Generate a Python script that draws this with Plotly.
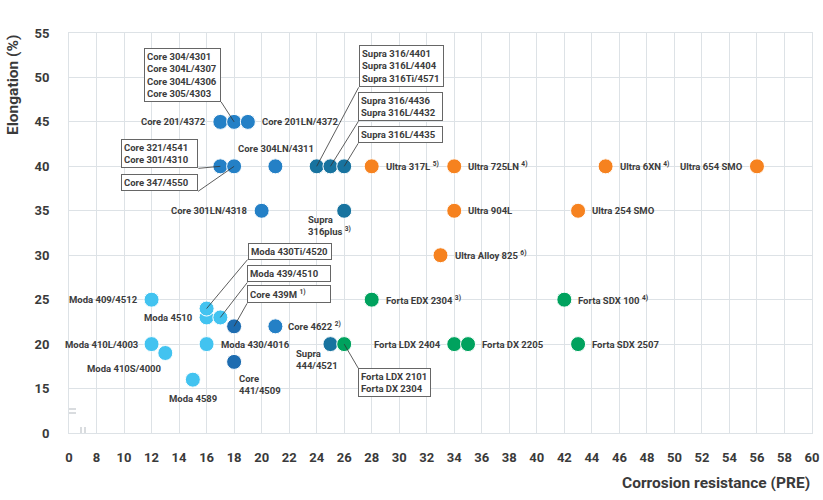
import plotly.graph_objects as go

# grade names (multi-grade points joined with <br>)
grades = [
    "Moda 409/4512", "Moda 410L/4003", "Moda 410S/4000", "Moda 4589",
    "Moda 4510", "Moda 430Ti/4520", "Moda 439/4510", "Moda 430/4016",
    "Core 439M <sup>1)</sup>", "Core<br>441/4509", "Core 4622 <sup>2)</sup>",
    "Core 201/4372", "Core 304/4301<br>Core 304L/4307<br>Core 304L/4306<br>Core 305/4303",
    "Core 201LN/4372", "Core 321/4541<br>Core 301/4310", "Core 347/4550",
    "Core 304LN/4311", "Core 301LN/4318",
    "Supra 316/4401<br>Supra 316L/4404<br>Supra 316Ti/4571",
    "Supra 316/4436<br>Supra 316L/4432", "Supra 316L/4435",
    "Supra<br>316plus <sup>3)</sup>", "Supra<br>444/4521",
    "Ultra 317L <sup>5)</sup>", "Ultra 725LN <sup>4)</sup>", "Ultra 6XN <sup>4)</sup>",
    "Ultra 654 SMO", "Ultra 904L", "Ultra 254 SMO", "Ultra Alloy 825 <sup>6)</sup>",
    "Forta EDX 2304 <sup>3)</sup>", "Forta SDX 100 <sup>4)</sup>",
    "Forta LDX 2101<br>Forta DX 2304", "Forta LDX 2404", "Forta DX 2205",
    "Forta SDX 2507",
]
pre = [12, 12, 13, 15, 16, 16, 17, 16,
       18, 18, 21,
       17, 18, 19, 17, 18, 21, 20,
       24, 25, 26, 26, 25,
       28, 34, 45, 56, 34, 43, 33,
       28, 42, 26, 34, 35, 43]
elongation = [25, 20, 19, 16, 23, 24, 23, 20,
              22, 18, 22,
              45, 45, 45, 40, 40, 40, 35,
              40, 40, 40, 35, 20,
              40, 40, 40, 40, 35, 35, 30,
              25, 25, 20, 20, 20, 20]
family = ["Moda"] * 8 + ["Core F", "Core F", "Core"] + ["Core"] * 7 + ["Supra"] * 5 \
    + ["Ultra"] * 7 + ["Forta"] * 6

x_ticks = [6] + list(range(8, 61, 2))
x_text = ["0"] + [str(v) for v in range(8, 61, 2)]
y_ticks = list(range(10, 56, 5))
y_text = ["0"] + [str(v) for v in range(15, 56, 5)]

colors = {
    "Moda": "#42c3f0",
    "Core": "#2480c6",
    "Core F": "#1d6cb0",
    "Supra": "#18739f",
    "Ultra": "#f6821f",
    "Forta": "#00a25e",
}

# label placement: (xanchor, yanchor, xshift, yshift)
plain = {
    "Moda 409/4512": ("right", "middle", -12, 0),
    "Moda 410L/4003": ("right", "middle", -12, 0),
    "Moda 410S/4000": ("right", "top", -1, -8),
    "Moda 4589": ("center", "top", 0, -11),
    "Moda 4510": ("right", "middle", -12, 0),
    "Moda 430/4016": ("left", "middle", 12, 0),
    "Core<br>441/4509": ("left", "top", 3, -9),
    "Core 4622 <sup>2)</sup>": ("left", "middle", 11, 0),
    "Core 201/4372": ("right", "middle", -12, 0),
    "Core 201LN/4372": ("left", "middle", 12, 0),
    "Core 304LN/4311": ("center", "bottom", 1, 10),
    "Core 301LN/4318": ("right", "middle", -12, 0),
    "Supra<br>316plus <sup>3)</sup>": ("left", "top", -38, -1),
    "Supra<br>444/4521": ("left", "top", -36, -2),
    "Ultra 317L <sup>5)</sup>": ("left", "middle", 12, 0),
    "Ultra 725LN <sup>4)</sup>": ("left", "middle", 12, 0),
    "Ultra 6XN <sup>4)</sup>": ("left", "middle", 12, 0),
    "Ultra 654 SMO": ("right", "middle", -12, 0),
    "Ultra 904L": ("left", "middle", 12, 0),
    "Ultra 254 SMO": ("left", "middle", 12, 0),
    "Ultra Alloy 825 <sup>6)</sup>": ("left", "middle", 12, 0),
    "Forta EDX 2304 <sup>3)</sup>": ("left", "middle", 12, 0),
    "Forta SDX 100 <sup>4)</sup>": ("left", "middle", 12, 0),
    "Forta LDX 2404": ("right", "middle", -11, 0),
    "Forta DX 2205": ("left", "middle", 12, 0),
    "Forta SDX 2507": ("left", "middle", 12, 0),
}
# boxed labels with leader line: (xanchor, yanchor, ax, ay, width)
boxed = {
    "Core 304/4301<br>Core 304L/4307<br>Core 304L/4306<br>Core 305/4303": ("right", "bottom", -13, -20, 71),
    "Core 321/4541<br>Core 301/4310": ("right", "bottom", -22, 2, 71),
    "Core 347/4550": ("right", "bottom", -36, 25, 71),
    "Supra 316/4401<br>Supra 316L/4404<br>Supra 316Ti/4571": ("left", "bottom", 42, -79, 79),
    "Supra 316/4436<br>Supra 316L/4432": ("left", "bottom", 28, -45, 79),
    "Supra 316L/4435": ("left", "bottom", 14, -23, 79),
    "Moda 430Ti/4520": ("left", "bottom", 41, -49, 78),
    "Moda 439/4510": ("left", "bottom", 27, -35, 78),
    "Core 439M <sup>1)</sup>": ("left", "bottom", 13, -23, 78),
    "Forta LDX 2101<br>Forta DX 2304": ("left", "top", 14, 24, 67),
}

label_font = dict(family="Roboto", size=9.5, color="#3c3c3c", weight="bold")

fig = go.Figure()
for fam in ["Moda", "Core", "Core F", "Supra", "Ultra", "Forta"]:
    idx = [i for i, f in enumerate(family) if f == fam]
    fig.add_trace(go.Scatter(
        x=[pre[i] for i in idx], y=[elongation[i] for i in idx],
        mode="markers", name=fam, hoverinfo="skip",
        marker=dict(size=15, color=colors[fam], line=dict(color="white", width=1)),
    ))

annotations = []
for name, x, y in zip(grades, pre, elongation):
    if name in boxed:
        xa, ya, ax, ay, w = boxed[name]
        annotations.append(dict(
            x=x, y=y, text=name, showarrow=True, arrowhead=0, arrowwidth=0.8,
            arrowcolor="#333", ax=ax, ay=ay, xanchor=xa, yanchor=ya,
            align="left", width=w, bordercolor="#666", borderwidth=1,
            borderpad=2, bgcolor="white", font=label_font,
        ))
    else:
        xa, ya, xs, ys = plain[name]
        annotations.append(dict(
            x=x, y=y, text=name, showarrow=False, xanchor=xa, yanchor=ya,
            xshift=xs, yshift=ys, align="left", font=label_font,
        ))

title_font = dict(family="Roboto", size=15.5, color="#3a3a3a", weight="bold")
annotations.append(dict(
    x=0, xref="paper", xanchor="left", xshift=-67, y=1, yref="paper", yanchor="top",
    text="Elongation (%)", textangle=-90, showarrow=False, font=title_font,
))
annotations.append(dict(
    x=1, xref="paper", xanchor="right", y=0, yref="paper", yanchor="middle",
    yshift=-50, text="Corrosion resistance (PRE)", showarrow=False, font=title_font,
))

# axis break marks
grid = "#dde2e6"
brk = "#b3b9bf"
shapes = [
    dict(type="rect", xref="x", xsizemode="pixel", xanchor=6, x0=-3, x1=3,
         yref="y", ysizemode="pixel", yanchor=10, y0=20, y1=24,
         fillcolor="white", line_width=0),
    dict(type="rect", xref="x", xsizemode="pixel", xanchor=6, x0=12, x1=16,
         yref="y", ysizemode="pixel", yanchor=10, y0=-3, y1=3,
         fillcolor="white", line_width=0),
]
for off in (20, 24):
    shapes.append(dict(type="line", xref="x", xsizemode="pixel", xanchor=6, x0=-6, x1=7,
                       yref="y", ysizemode="pixel", yanchor=10, y0=off, y1=off,
                       line=dict(color=brk, width=1)))
for off in (12, 16):
    shapes.append(dict(type="line", xref="x", xsizemode="pixel", xanchor=6, x0=off, x1=off,
                       yref="y", ysizemode="pixel", yanchor=10, y0=-6, y1=6,
                       line=dict(color=brk, width=1)))

fig.update_layout(
    width=823, height=500,
    margin=dict(l=69, r=11, t=33, b=67, autoexpand=False),
    plot_bgcolor="white", paper_bgcolor="white",
    showlegend=False,
    annotations=annotations,
    shapes=shapes,
    font=dict(family="Roboto", color="#3a3a3a"),
)
fig.update_xaxes(
    range=[6, 60], tickvals=x_ticks, ticktext=x_text, automargin=False,
    showgrid=True, gridcolor=grid, gridwidth=1, zeroline=False,
    showline=True, linecolor=grid, mirror=True,
    ticks="", ticklabelstandoff=12,
    tickfont=dict(family="Roboto", size=13, color="#3a3a3a", weight="bold"),
)
fig.update_yaxes(
    range=[10, 55], tickvals=y_ticks, ticktext=y_text, automargin=False,
    showgrid=True, gridcolor=grid, gridwidth=1, zeroline=False,
    showline=True, linecolor=grid, mirror=True,
    ticks="", ticklabelstandoff=16,
    tickfont=dict(family="Roboto", size=13, color="#3a3a3a", weight="bold"),
)

# drop the browser's default page margin so the chart sits at the top-left corner
fig.write_html("out.html", config={"displayModeBar": False},
               post_script="document.body.style.margin='0';")
